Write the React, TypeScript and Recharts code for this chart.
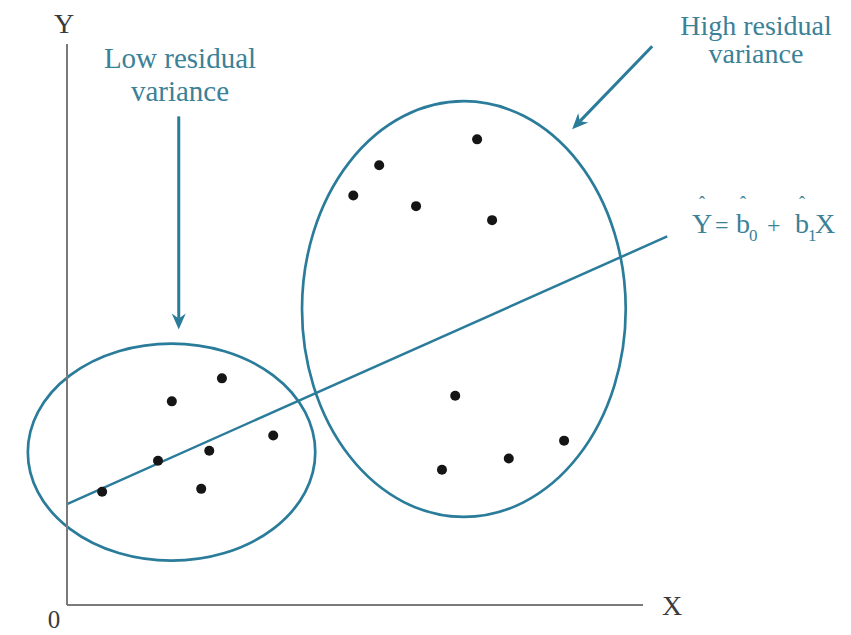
import React from 'react';
import { ScatterChart, Scatter, XAxis, YAxis, ReferenceLine, ReferenceArea } from 'recharts';

const lowPoints = [
  { x: 6.1, y: 20.2 },
  { x: 15.8, y: 25.7 },
  { x: 18.2, y: 36.3 },
  { x: 26.9, y: 40.4 },
  { x: 24.7, y: 27.5 },
  { x: 23.3, y: 20.7 },
  { x: 35.8, y: 30.2 },
];

const highPoints = [
  { x: 71.2, y: 83.0 },
  { x: 54.2, y: 78.4 },
  { x: 49.7, y: 73.0 },
  { x: 60.6, y: 71.1 },
  { x: 73.8, y: 68.6 },
  { x: 67.4, y: 37.3 },
  { x: 86.3, y: 29.3 },
  { x: 76.7, y: 26.1 },
  { x: 65.1, y: 24.1 },
];

// fitted line Y = b0 + b1 X
const regression = [
  { x: 0, y: 18.0 },
  { x: 104.2, y: 65.7 },
];

// bounding boxes of the two variance ellipses
const lowEllipse = { x1: -6.8, x2: 43.1, y1: 7.9, y2: 46.6 };
const highEllipse = { x1: 40.8, x2: 97.0, y1: 15.7, y2: 89.8 };

// annotation arrows (start -> tip)
const lowArrow = [
  { x: 19.4, y: 87.1 },
  { x: 19.4, y: 49.1 },
];
const highArrow = [
  { x: 101.6, y: 99.6 },
  { x: 87.7, y: 84.8 },
];

const TEAL = '#2b7c9a';
const TEXT_TEAL = '#3b8197';
const SERIF = '"Liberation Serif", "DejaVu Serif", serif';

const Dot = (props: any) => <circle cx={props.cx} cy={props.cy} r={5} fill="#151515" />;

const EllipseShape = (props: any) => {
  const { x, y, width, height } = props;
  return (
    <ellipse
      cx={x + width / 2}
      cy={y + height / 2}
      rx={Math.abs(width) / 2}
      ry={Math.abs(height) / 2}
      fill="none"
      stroke={TEAL}
      strokeWidth={2.7}
    />
  );
};

const ArrowShape = (props: any) => {
  const { x1, y1, x2, y2 } = props;
  const ang = Math.atan2(y2 - y1, x2 - x1);
  const len = 16;
  const half = 7;
  const bx = x2 - len * Math.cos(ang);
  const by = y2 - len * Math.sin(ang);
  const px = -Math.sin(ang) * half;
  const py = Math.cos(ang) * half;
  const nx = x2 - (len - 5) * Math.cos(ang);
  const ny = y2 - (len - 5) * Math.sin(ang);
  return (
    <g>
      <line x1={x1} y1={y1} x2={nx} y2={ny} stroke={TEAL} strokeWidth={3} />
      <polygon points={`${x2},${y2} ${bx + px},${by + py} ${nx},${ny} ${bx - px},${by - py}`} fill={TEAL} />
    </g>
  );
};

const App: React.FC = () => {
  return (
    <div style={{ position: 'absolute', left: 0, top: 0, width: 851, height: 635, background: '#fff' }}>
      <ScatterChart width={851} height={635} margin={{ top: 44, right: 208, bottom: 29, left: 66 }}>
        <XAxis
          type="number"
          dataKey="x"
          domain={[0, 100]}
          height={1}
          tick={false}
          tickLine={false}
          axisLine={{ stroke: '#7a7a7a', strokeWidth: 2 }}
        />
        <YAxis
          type="number"
          dataKey="y"
          domain={[0, 100]}
          width={1}
          tick={false}
          tickLine={false}
          axisLine={{ stroke: '#7a7a7a', strokeWidth: 2 }}
        />
        <ReferenceArea {...lowEllipse} ifOverflow="visible" shape={EllipseShape} />
        <ReferenceArea {...highEllipse} ifOverflow="visible" shape={EllipseShape} />
        <ReferenceLine
          segment={regression}
          ifOverflow="visible"
          stroke={TEAL}
          strokeWidth={2.5}
        />
        <ReferenceLine segment={lowArrow} ifOverflow="visible" shape={ArrowShape} />
        <ReferenceLine segment={highArrow} ifOverflow="visible" shape={ArrowShape} />
        <Scatter data={lowPoints} shape={Dot} isAnimationActive={false} />
        <Scatter data={highPoints} shape={Dot} isAnimationActive={false} />
      </ScatterChart>

      <svg
        width={851}
        height={635}
        style={{ position: 'absolute', left: 0, top: 0, pointerEvents: 'none', fontFamily: SERIF }}
      >
        <text x={64} y={33} fontSize={28} fill="#3a3a3a" textAnchor="middle">Y</text>
        <text x={672} y={615} fontSize={28} fill="#3a3a3a" textAnchor="middle">X</text>
        <text x={54} y={628} fontSize={25} fill="#3a3a3a" textAnchor="middle">0</text>

        <text x={180} y={68} fontSize={29} fill={TEXT_TEAL} textAnchor="middle">Low residual</text>
        <text x={180} y={101} fontSize={29} fill={TEXT_TEAL} textAnchor="middle">variance</text>

        <text x={756} y={35} fontSize={28} fill={TEXT_TEAL} textAnchor="middle">High residual</text>
        <text x={756} y={63} fontSize={28} fill={TEXT_TEAL} textAnchor="middle">variance</text>

        <g fill={TEXT_TEAL} fontSize={28}>
          <text x={692} y={233}>Y</text>
          <text x={702} y={209} fontSize={18} textAnchor="middle">ˆ</text>
          <text x={715} y={233} fontSize={24}>=</text>
          <text x={736} y={233}>b</text>
          <text x={743} y={209} fontSize={18} textAnchor="middle">ˆ</text>
          <text x={749} y={241} fontSize={17}>0</text>
          <text x={767} y={233} fontSize={24}>+</text>
          <text x={795} y={233}>b</text>
          <text x={802} y={209} fontSize={18} textAnchor="middle">ˆ</text>
          <text x={808} y={241} fontSize={17}>1</text>
          <text x={815} y={233}>X</text>
        </g>
      </svg>
    </div>
  );
};

export default App;
